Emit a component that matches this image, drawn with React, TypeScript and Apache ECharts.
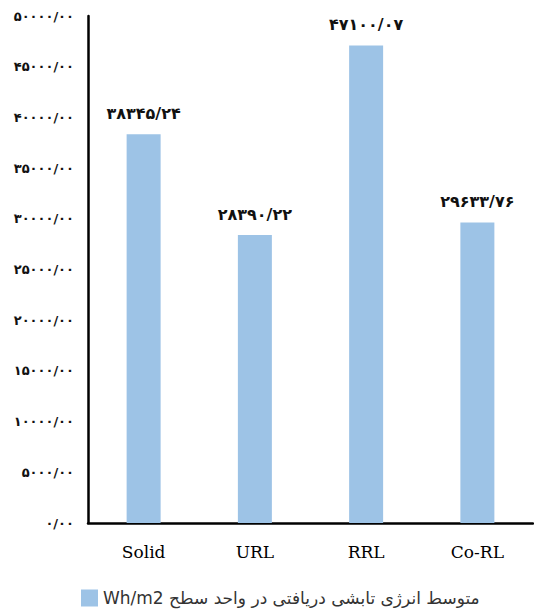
import React, { useEffect, useRef } from "react";
import * as echarts from "echarts";

const categories = ["Solid", "URL", "RRL", "Co-RL"];
const energyValues = [38345.24, 28390.22, 47100.07, 29633.76];
const seriesName = "Wh/m2 متوسط انرژی تابشی دریافتی در واحد سطح";

const faDigits = ["۰", "۱", "۲", "۳", "۴", "۵", "۶", "۷", "۸", "۹"];
function toFa(v: number): string {
  return v
    .toFixed(2)
    .replace(".", "/")
    .replace(/[0-9]/g, (d) => faDigits[Number(d)]);
}

export default function App() {
  const ref = useRef<HTMLDivElement>(null);
  useEffect(() => {
    if (!ref.current) return;
    const chart = echarts.init(ref.current, null, { renderer: "svg" });
    chart.setOption({
      animation: false,
      backgroundColor: "#ffffff",
      grid: { left: 88, top: 16, width: 445, height: 507, containLabel: false },
      legend: {
        data: [seriesName],
        top: 586,
        left: 81,
        itemWidth: 17,
        itemHeight: 17,
        itemGap: 6,
        icon: "rect",
        padding: [0, 0, 0, 0],
        textStyle: { fontFamily: "DejaVu Sans", fontSize: 17, color: "#333333", lineHeight: 24 },
      },
      xAxis: {
        type: "category",
        data: categories,
        axisLine: { lineStyle: { color: "#000", width: 2.5 } },
        axisTick: { show: false },
        axisLabel: {
          margin: 20,
          fontFamily: "DejaVu Serif",
          fontSize: 17,
          color: "#000",
        },
      },
      yAxis: {
        type: "value",
        min: 0,
        max: 50000,
        interval: 5000,
        splitLine: { show: false },
        axisLine: { show: true, lineStyle: { color: "#000", width: 2.5 } },
        axisTick: { show: false },
        axisLabel: {
          margin: 14,
          fontFamily: "DejaVu Sans",
          fontWeight: "bold",
          fontSize: 13,
          color: "#111",
          formatter: (v: number) => toFa(v),
        },
      },
      series: [
        {
          name: seriesName,
          type: "bar",
          data: energyValues,
          barWidth: 34,
          itemStyle: { color: "#9DC3E6" },
          label: {
            show: true,
            position: "top",
            distance: 13,
            fontFamily: "DejaVu Sans",
            fontWeight: "bold",
            fontSize: 16,
            color: "#111",
            formatter: (p: any) => toFa(p.value),
          },
        },
      ],
    });
    return () => chart.dispose();
  }, []);
  return (
    <div
      ref={ref}
      style={{ position: "absolute", left: 0, top: 0, width: 534, height: 614 }}
    />
  );
}
